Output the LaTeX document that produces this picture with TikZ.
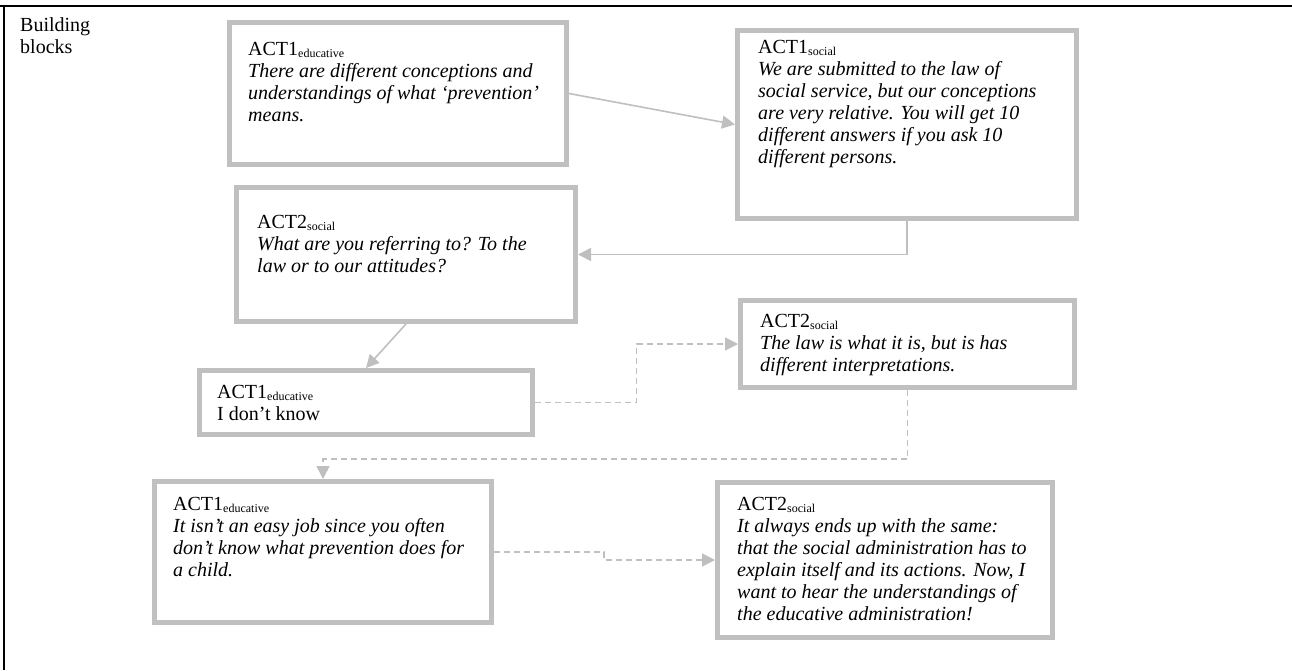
\documentclass[tikz,border=0pt]{standalone}
\usepackage{fontspec}
\setmainfont{Liberation Serif}
\usetikzlibrary{arrows.meta,calc}
\definecolor{boxgray}{RGB}{192,192,192}
\definecolor{linegray}{RGB}{191,191,191}
\newcommand\actsub[1]{\raisebox{-0.3ex}{\fontsize{12}{12}\selectfont #1}}
\begin{document}
\begin{tikzpicture}[x=1pt,y=-1pt,
  box/.style={draw=boxgray, line width=5pt, fill=white, rectangle, inner sep=0pt},
  txt/.style={anchor=north west, inner sep=0pt, align=left, font=\fontsize{20}{22}\selectfont},
  conn/.style={draw=linegray, line width=1.6pt, -{Triangle[length=13pt,width=13pt]}},
  dconn/.style={conn, dash pattern=on 6pt off 4pt},
  frameline/.style={line width=2pt, black}]
\useasboundingbox (0,0) rectangle (1292,670);
% frame
\coordinate (f0) at (0,5.5);
\coordinate (f1) at (1292,5.5);
\coordinate (f2) at (4.3,4.5);
\coordinate (f3) at (4.3,670);
\draw[frameline] (f0) -- (f1);
\draw[frameline] (f2) -- (f3);
\node[txt] (title) at (20,15.6) {\strut Building\\blocks};
% boxes
\node[box, minimum width=337pt, minimum height=142pt] (b1) at (398,93.5) {};
\node[box, minimum width=339pt, minimum height=188pt] (b2) at (907,124.5) {};
\node[box, minimum width=339pt, minimum height=134pt] (b3) at (406,254.5) {};
\node[box, minimum width=333pt, minimum height=64pt] (b4) at (366,402.5) {};
\node[box, minimum width=334pt, minimum height=87pt] (b5) at (907.5,344) {};
\node[box, minimum width=337pt, minimum height=141pt] (b6) at (323,552) {};
\node[box, minimum width=335pt, minimum height=155pt] (b7) at (885,560) {};
% texts
\node[txt] (t1) at ([shift={(21,19.6)}]b1.north west) {\strut ACT1\actsub{educative}\\
  \textit{There are different conceptions and}\\
  \textit{understandings of what ‘prevention’}\\
  \textit{means.}};
\node[txt] (t2) at ([shift={(23,9.6)}]b2.north west) {\strut ACT1\actsub{social}\\
  \textit{We are submitted to the law of}\\
  \textit{social service, but our conceptions}\\
  \textit{are very relative. You will get 10}\\
  \textit{different answers if you ask 10}\\
  \textit{different persons.}};
\node[txt] (t3) at ([shift={(23,27.6)}]b3.north west) {\strut ACT2\actsub{social}\\
  \textit{What are you referring to? To the}\\
  \textit{law or to our attitudes?}};
\node[txt] (t4) at ([shift={(20,14.6)}]b4.north west) {\strut ACT1\actsub{educative}\\
  I don’t know};
\node[txt] (t5) at ([shift={(22,13.6)}]b5.north west) {\strut ACT2\actsub{social}\\
  \textit{The law is what it is, but is has}\\
  \textit{different interpretations.}};
\node[txt] (t6) at ([shift={(21,15.6)}]b6.north west) {\strut ACT1\actsub{educative}\\
  \textit{It isn’t an easy job since you often}\\
  \textit{don’t know what prevention does for}\\
  \textit{a child.}};
\node[txt] (t7) at ([shift={(22,14.6)}]b7.north west) {\strut ACT2\actsub{social}\\
  \textit{It always ends up with the same:}\\
  \textit{that the social administration has to}\\
  \textit{explain itself and its actions. Now, I}\\
  \textit{want to hear the understandings of}\\
  \textit{the educative administration!}};
% connectors
\draw[conn] (b1.east) -- (b2.west);
\draw[conn] (b2.south) |- (b3.east);
\draw[conn] (b3.south) -- (b4.north);
\draw[dconn] (b4.east) -- ++(101.5,0) |- (b5.west);
\draw[dconn] (b5.south) -- ++(0,69) -| (b6.north);
\draw[dconn] (b6.east) -- ++(110,0) |- (b7.west);
\end{tikzpicture}
\end{document}
